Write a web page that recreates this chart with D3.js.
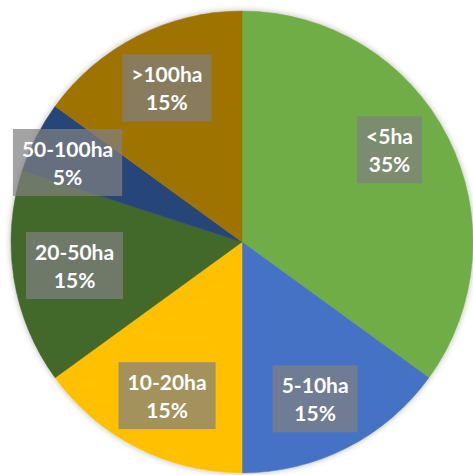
<!DOCTYPE html>
<html>
<head>
<meta charset="utf-8">
<script src="https://cdn.jsdelivr.net/npm/d3@7/dist/d3.min.js"></script>
<style>
  html, body { margin: 0; padding: 0; background: #ffffff; }
  svg { display: block; }
</style>
</head>
<body>
<svg id="chart" width="473" height="475"></svg>
<script>
// ---- data ----
const categories = ["<5ha", "5-10ha", "10-20ha", "20-50ha", "50-100ha", ">100ha"];
const shares = [35, 15, 15, 15, 5, 15];
const colors = ["#70AD47", "#4472C4", "#FFC000", "#43682B", "#264478", "#9E7300"];

// ---- layout ----
const W = 473, H = 475;
const cx = 242, cy = 242, R = 231;
const svg = d3.select("#chart");

const defs = svg.append("defs");
const f = defs.append("filter").attr("id", "shadow")
  .attr("x", "-10%").attr("y", "-10%").attr("width", "120%").attr("height", "120%");
f.append("feDropShadow").attr("dx", 0).attr("dy", 0).attr("stdDeviation", 3)
  .attr("flood-color", "#000").attr("flood-opacity", 0.28);

const data = categories.map((c, i) => ({ cat: c, value: shares[i], color: colors[i] }));
const pie = d3.pie().value(d => d.value).sort(null);
const arcs = pie(data);
const arc = d3.arc().innerRadius(0).outerRadius(R);

const g = svg.append("g").attr("transform", `translate(${cx},${cy})`);
g.append("g").attr("filter", "url(#shadow)")
  .selectAll("path").data(arcs).join("path")
  .attr("d", arc)
  .attr("fill", d => d.data.color)
  .attr("stroke", d => d.data.color)
  .attr("stroke-width", 0.5);

// label placement (style tweaks in degrees / radius fraction)
const angleNudge = [-5, 2, -1, 1, -2.5, 1];
const radiusFrac = [0.753, 0.749, 0.74, 0.732, 0.83, 0.742];

const labels = g.append("g").selectAll("g").data(arcs).join("g");
labels.each(function (d, i) {
  const mid = (d.startAngle + d.endAngle) / 2 + angleNudge[i] * Math.PI / 180;
  const rr = R * radiusFrac[i];
  const x = Math.sin(mid) * rr, y = -Math.cos(mid) * rr;
  const sel = d3.select(this).attr("transform", `translate(${x},${y})`);
  const rect = sel.append("rect").attr("fill", "rgba(127,127,127,0.72)");
  const t1 = sel.append("text").text(d.data.cat)
    .attr("text-anchor", "middle").attr("y", -5.5)
    .attr("fill", "#fff").attr("font-family", "Lato, 'Open Sans', sans-serif")
    .attr("font-weight", "bold").attr("font-size", 21);
  const t2 = sel.append("text").text(d3.format(".0%")(d.data.value / 100))
    .attr("text-anchor", "middle").attr("y", 22.5)
    .attr("fill", "#fff").attr("font-family", "Lato, 'Open Sans', sans-serif")
    .attr("font-weight", "bold").attr("font-size", 21);
  const w = Math.max(t1.node().getComputedTextLength(), t2.node().getComputedTextLength()) + 18;
  const h = 67;
  rect.attr("x", -w / 2).attr("y", -h / 2).attr("width", w).attr("height", h);
});
</script>
</body>
</html>
